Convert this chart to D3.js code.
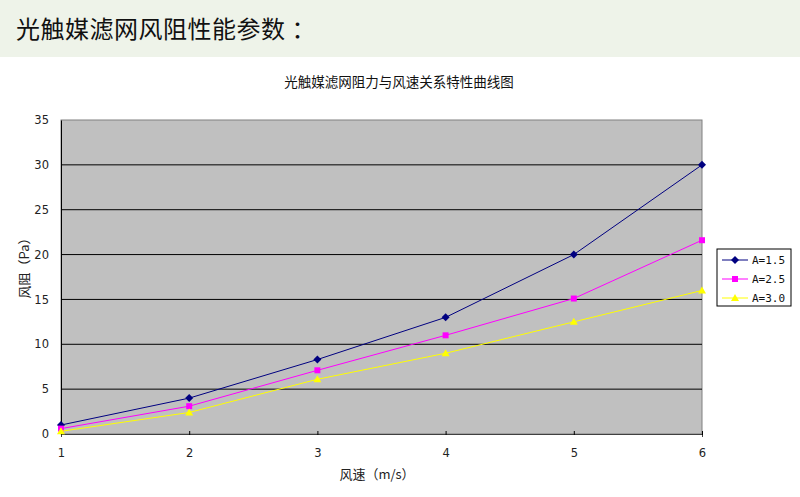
<!DOCTYPE html>
<html>
<head>
<meta charset="utf-8">
<script src="https://cdn.jsdelivr.net/npm/d3@7"></script>
<style>
  body { margin: 0; background: #fff; }
  svg { display: block; }
  .tick text { font-family: "DejaVu Sans", sans-serif; }
</style>
</head>
<body>
<svg id="chart" width="800" height="497"></svg>
<script>
// wind speed (m/s)
var speeds = [1, 2, 3, 4, 5, 6];
// resistance (Pa) per series
var seriesNames = ["A=1.5", "A=2.5", "A=3.0"];
var resA15 = [1.0, 4.0, 8.3, 13.0, 20.0, 30.0];
var resA25 = [0.6, 3.1, 7.1, 11.0, 15.1, 21.6];
var resA30 = [0.3, 2.4, 6.1, 9.0, 12.5, 16.0];
var yTicks = [0, 5, 10, 15, 20, 25, 30, 35];

var colors = ["#000080", "#ff00ff", "#ffff00"];
var allSeries = [resA15, resA25, resA30];

// marker shapes: diamond = rotated square
function marker(k) {
  if (k === 0) return "M0,-4L4,0L0,4L-4,0Z";
  if (k === 1) return "M-3,-3H3V3H-3Z";
  return "M0,-4L4,3H-4Z";
}

var svg = d3.select("#chart");
var cjk = '"Noto Sans CJK SC", sans-serif';

// header band
svg.append("rect").attr("x", 0).attr("y", 0).attr("width", 800).attr("height", 57)
    .attr("fill", "#eef3e9");
svg.append("text").attr("x", 16).attr("y", 38)
    .style("font-family", cjk).style("font-size", "24px").style("letter-spacing", "0.5px")
    .attr("fill", "#111")
    .text("光触媒滤网风阻性能参数 ：");

var margin = {left: 61, top: 120, right: 98, bottom: 63};
var width = 800 - margin.left - margin.right,
    height = 497 - margin.top - margin.bottom;

var x = d3.scaleLinear().domain([1, 6]).range([0, width]);
var y = d3.scaleLinear().domain([0, 35]).range([height, 0]);

svg.append("text").attr("x", 399).attr("y", 87)
    .attr("text-anchor", "middle")
    .style("font-family", cjk).style("font-size", "13.5px").attr("fill", "#111")
    .text("光触媒滤网阻力与风速关系特性曲线图");

var g = svg.append("g").attr("transform", "translate(" + margin.left + "," + margin.top + ")");

g.append("rect").attr("width", width).attr("height", height)
    .attr("fill", "#c0c0c0").attr("stroke", "#808080");

// gridlines
g.selectAll(".grid").data(yTicks.slice(1, -1)).enter().append("line")
    .attr("x1", 0).attr("x2", width)
    .attr("y1", function(d) { return y(d); }).attr("y2", function(d) { return y(d); })
    .attr("stroke", "#000").attr("stroke-width", 1);

var yaxis = d3.axisLeft(y).tickValues(yTicks).tickSize(0).tickPadding(12);
var xaxis = d3.axisBottom(x).tickValues(speeds).tickSize(3).tickPadding(12)
    .tickFormat(d3.format("d"));

g.append("g").attr("class", "yaxis").call(yaxis)
  .call(function(s) {
    s.select(".domain").attr("stroke", "#000");
    s.selectAll("text").style("font-size", "11.5px").attr("fill", "#222");
  });

g.append("g").attr("class", "xaxis").attr("transform", "translate(0," + height + ")").call(xaxis)
  .call(function(s) {
    s.select(".domain").attr("stroke", "#404040");
    s.selectAll("line").attr("stroke", "#000").attr("y1", -3).attr("y2", 1);
    s.selectAll("text").style("font-size", "11.5px").attr("fill", "#222");
  });

svg.append("text").attr("x", 377).attr("y", 479).attr("text-anchor", "middle")
    .style("font-family", cjk).style("font-size", "13px").attr("fill", "#222")
    .text("风速（m/s）");
svg.append("text").attr("transform", "translate(29,265) rotate(-90)")
    .attr("text-anchor", "middle")
    .style("font-family", cjk).style("font-size", "13px").attr("fill", "#222")
    .text("风阻（Pa）");

var line = d3.line().x(function(d, i) { return x(speeds[i]); }).y(function(d) { return y(d); });

allSeries.forEach(function(vals, k) {
  g.append("path").datum(vals).attr("d", line)
      .attr("fill", "none").attr("stroke", colors[k]).attr("stroke-width", 1);
  g.selectAll(".pt" + k).data(vals).enter().append("path")
      .attr("transform", function(d, i) { return "translate(" + x(speeds[i]) + "," + y(d) + ")"; })
      .attr("d", marker(k))
      .attr("fill", colors[k]);
});

// legend
var leg = svg.append("g").attr("transform", "translate(717,249)");
leg.append("rect").attr("width", 74).attr("height", 57)
    .attr("fill", "#fff").attr("stroke", "#000");
seriesNames.forEach(function(name, k) {
  var ly = 11 + k * 19;
  leg.append("line").attr("x1", 5).attr("x2", 31).attr("y1", ly).attr("y2", ly)
      .attr("stroke", colors[k]);
  leg.append("path").attr("transform", "translate(18," + ly + ")")
      .attr("d", marker(k)).attr("fill", colors[k]);
  leg.append("text").attr("x", 35).attr("y", ly + 4)
      .style("font-family", '"DejaVu Sans Mono", monospace').style("font-size", "11px")
      .attr("fill", "#111").text(name);
});
</script>
</body>
</html>
